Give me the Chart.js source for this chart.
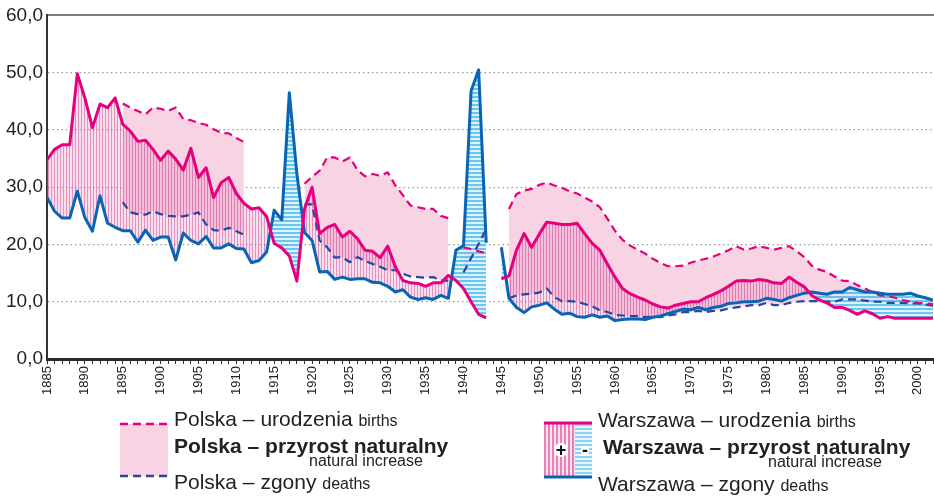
<!DOCTYPE html>
<html>
<head>
<meta charset="utf-8">
<script src="https://cdn.jsdelivr.net/npm/chart.js@4/dist/chart.umd.min.js"></script>
<style>
  html, body { margin:0; padding:0; background:#fff; }
  #wrap { position:relative; width:934px; height:498px; overflow:hidden; font-family:"Liberation Sans", Arial, sans-serif; color:#222; }
  #c { position:absolute; left:0; top:0; }
  .t { position:absolute; white-space:nowrap; font-size:21px; line-height:21px; }
  .b { font-weight:bold; }
  .s { font-size:16px; }
  .n { position:absolute; white-space:nowrap; font-size:16px; line-height:16px; }
  svg { position:absolute; }
</style>
</head>
<body>
<div id="wrap">
  <canvas id="c" width="934" height="498"></canvas>

  <svg style="left:120px;top:420px" width="50" height="60">
    <rect x="0" y="4" width="48" height="52" fill="#f8d3e4"/>
    <line x1="0" y1="4" x2="48" y2="4" stroke="#e6007e" stroke-width="2.4" stroke-dasharray="8,5"/>
    <line x1="0" y1="56" x2="48" y2="56" stroke="#2846a0" stroke-width="2.4" stroke-dasharray="8,5"/>
  </svg>
  <div class="t" style="left:174px;top:408px">Polska – urodzenia <span class="s">births</span></div>
  <div class="t b" style="left:174px;top:435px">Polska – przyrost naturalny</div>
  <div class="n" style="left:309px;top:453px">natural increase</div>
  <div class="t" style="left:174px;top:471px">Polska – zgony <span class="s">deaths</span></div>

  <svg style="left:544px;top:420px" width="50" height="60">
    <defs>
      <pattern id="pv" width="4" height="4" patternUnits="userSpaceOnUse">
        <rect x="0" y="0" width="4" height="4" fill="#fde4f0"/>
        <rect x="0" y="0" width="2" height="4" fill="#ea7fb5"/>
      </pattern>
      <pattern id="ph" width="4" height="4" patternUnits="userSpaceOnUse">
        <rect x="0" y="0" width="4" height="4" fill="#e6f6fc"/>
        <rect x="0" y="0" width="4" height="2" fill="#8dd3f0"/>
      </pattern>
    </defs>
    <rect x="0" y="3" width="31" height="54" fill="url(#pv)"/>
    <rect x="31" y="3" width="17" height="54" fill="url(#ph)"/>
    <circle cx="17" cy="30" r="7" fill="#fff"/>
    <text x="17" y="36" font-family="Liberation Sans, Arial" font-weight="bold" font-size="18" text-anchor="middle" fill="#111">+</text>
    <rect x="37" y="26" width="8" height="10" fill="#fff"/>
    <text x="41" y="36" font-family="Liberation Sans, Arial" font-weight="bold" font-size="18" text-anchor="middle" fill="#111">-</text>
    <line x1="0" y1="3" x2="48" y2="3" stroke="#e6007e" stroke-width="3"/>
    <line x1="0" y1="57" x2="48" y2="57" stroke="#0a64b4" stroke-width="3"/>
  </svg>
  <div class="t" style="left:598px;top:409px">Warszawa – urodzenia <span class="s">births</span></div>
  <div class="t b" style="left:603px;top:436px">Warszawa – przyrost naturalny</div>
  <div class="n" style="left:768px;top:454px">natural increase</div>
  <div class="t" style="left:598px;top:473px">Warszawa – zgony <span class="s">deaths</span></div>
</div>

<script>
// ---- data (per-mille, years 1885..2002) ----
const firstYear = 1885;
const lastYear = 2002;
const years = [];
for (let y = firstYear; y <= lastYear; y++) years.push(y);

const warsawBirths = [
  34.8, 36.6, 37.4, 37.4, 49.8, 45.6, 40.4, 44.5, 43.9, 45.6,
  41.0, 39.8, 38.0, 38.2, 36.6, 34.7, 36.3, 34.9, 33.0, 36.8,
  31.7, 33.4, 28.2, 30.8, 31.7, 28.9, 27.2, 26.2, 26.4, 24.9,
  20.2, 19.4, 18.0, 13.6, 26.2, 30.0, 21.9, 23.0, 23.5, 21.3,
  22.3, 21.0, 19.0, 18.8, 17.7, 19.7, 16.1, 13.7, 13.3, 13.2,
  12.7, 13.3, 13.3, 14.6, 13.7, 12.3, 10.0, 7.8, 7.2, null,
  14.0, 14.5, 19.0, 21.9, 19.5, 21.8, 23.9, 23.7, 23.5, 23.5,
  23.7, 21.9, 20.2, 19.0, 16.6, 14.3, 12.3, 11.4, 10.8, 10.3,
  9.6, 9.1, 8.9, 9.4, 9.7, 10.0, 10.0, 10.7, 11.3, 11.9,
  12.7, 13.6, 13.7, 13.6, 13.9, 13.7, 13.3, 13.2, 14.3, 13.4,
  12.6, 11.1, 10.3, 9.8, 9.0, 9.0, 8.5, 7.8, 8.4, 7.9,
  7.1, 7.4, 7.1, 7.1, 7.1, 7.1, 7.1, 7.1
];

const warsawDeaths = [
  28.2, 25.8, 24.6, 24.6, 29.3, 24.7, 22.3, 28.5, 23.7, 23.0,
  22.4, 22.4, 20.4, 22.5, 20.7, 21.3, 21.3, 17.3, 22.0, 20.7,
  20.1, 21.4, 19.4, 19.4, 20.1, 19.3, 19.2, 16.8, 17.2, 18.7,
  26.0, 24.3, 46.5, 32.3, 22.1, 20.7, 15.2, 15.3, 13.9, 14.3,
  13.9, 14.0, 14.0, 13.4, 13.3, 12.7, 11.7, 12.1, 10.8, 10.4,
  10.7, 10.4, 11.1, 10.6, 19.0, 19.8, 46.8, 50.5, 20.3, null,
  19.5, 10.6, 9.0, 8.1, 9.1, 9.4, 9.8, 8.7, 7.8, 8.0,
  7.4, 7.3, 7.7, 7.3, 7.5, 6.7, 6.9, 7.0, 7.0, 6.9,
  7.3, 7.5, 7.9, 8.3, 8.7, 8.6, 9.0, 8.6, 9.0, 9.2,
  9.7, 9.8, 10.0, 10.0, 10.1, 10.6, 10.4, 10.1, 10.7, 11.1,
  11.5, 11.7, 11.5, 11.3, 11.7, 11.7, 12.5, 12.1, 11.7, 11.7,
  11.5, 11.3, 11.3, 11.3, 11.5, 11.0, 10.7, 10.3
];

const polandBirths = [
  null, null, null, null, null, null, null, null, null, null,
  44.6, 43.9, 43.3, 42.7, 43.9, 43.7, 43.3, 43.9, 41.9, 41.7,
  41.2, 40.9, 40.1, 39.5, 39.4, 38.6, 37.9, null, null, null,
  null, null, null, null, 30.6, 31.8, 32.9, 35.2, 35.2, 34.5,
  35.2, 33.0, 31.9, 32.3, 32.0, 32.6, 30.3, 28.6, 26.8, 26.5,
  26.2, 26.2, 25.0, 24.6, null, 19.5, 19.2, 18.8, 18.5, null,
  null, 26.2, 28.8, 29.4, 29.7, 30.4, 30.8, 30.3, 29.9, 29.3,
  28.9, 28.2, 27.5, 26.5, 24.5, 22.4, 20.8, 19.8, 19.1, 18.4,
  17.5, 16.8, 16.2, 16.2, 16.3, 16.8, 17.2, 17.5, 17.9, 18.4,
  19.0, 19.7, 19.1, 19.3, 19.7, 19.4, 19.1, 19.4, 19.7, 18.8,
  17.8, 16.3, 15.6, 15.2, 14.4, 13.7, 13.6, 12.9, 12.3, 11.7,
  11.1, 11.0, 10.7, 10.3, 10.0, 9.8, 9.7, 9.6
];

const polandDeaths = [
  null, null, null, null, null, null, null, null, null, null,
  27.4, 25.6, 25.3, 25.2, 25.8, 25.3, 25.0, 24.9, 24.9, 25.2,
  25.6, 23.5, 22.5, 22.4, 22.9, 22.3, 21.7, null, null, null,
  null, null, null, null, 27.0, 27.0, 20.7, 19.5, 17.7, 17.8,
  16.9, 17.8, 17.1, 16.6, 16.1, 15.5, 15.5, 14.9, 14.4, 14.3,
  14.2, 14.3, 13.7, 13.7, null, 15.1, 17.6, 20.1, 22.7, null,
  null, 10.6, 11.1, 11.3, 11.4, 11.6, 12.3, 10.8, 10.1, 10.1,
  10.0, 9.6, 9.2, 8.5, 8.2, 7.7, 7.6, 7.5, 7.5, 7.3,
  7.4, 7.3, 7.6, 7.8, 8.2, 8.2, 8.4, 8.2, 8.4, 8.5,
  8.8, 9.0, 9.2, 9.4, 9.4, 9.8, 9.4, 9.4, 9.8, 10.0,
  10.1, 10.1, 10.1, 10.0, 10.0, 10.4, 10.4, 10.4, 10.2, 10.0,
  10.0, 9.8, 9.8, 9.8, 9.7, 9.7, 9.5, 9.3
];

const yTickMin = 0, yTickMax = 60, yTickStep = 10;

// ---- patterns ----
function makePattern(w, h, paint) {
  const c = document.createElement('canvas');
  c.width = w; c.height = h;
  const g = c.getContext('2d');
  paint(g);
  return document.getElementById('c').getContext('2d').createPattern(c, 'repeat');
}
const plusPattern = makePattern(3, 1, g => {
  g.fillStyle = 'rgba(200,55,135,0.55)'; g.fillRect(0, 0, 1, 1);
  g.fillStyle = 'rgba(238,150,198,0.3)'; g.fillRect(1, 0, 2, 1);
});
const minusPattern = makePattern(1, 4, g => {
  g.fillStyle = 'rgba(70,185,235,0.8)'; g.fillRect(0, 0, 1, 2);
  g.fillStyle = 'rgba(205,238,252,0.7)'; g.fillRect(0, 2, 1, 2);
});

const pts = arr => years.map((y, i) => ({ x: y, y: arr[i] }));
const FONT = '"Liberation Sans", Arial, sans-serif';

new Chart(document.getElementById('c'), {
  type: 'line',
  data: {
    datasets: [
      { label: 'Warszawa – urodzenia', data: pts(warsawBirths), borderColor: '#e6007e', borderWidth: 3,
        fill: { target: 1, above: plusPattern, below: minusPattern } },
      { label: 'Warszawa – zgony', data: pts(warsawDeaths), borderColor: '#0a64b4', borderWidth: 3, fill: false },
      { label: 'Polska – urodzenia', data: pts(polandBirths), borderColor: '#e6007e', borderWidth: 2.2, borderDash: [8, 5],
        fill: { target: 3, above: '#f8d3e4', below: 'rgba(0,0,0,0)' } },
      { label: 'Polska – zgony', data: pts(polandDeaths), borderColor: '#2846a0', borderWidth: 2.2, borderDash: [8, 5], fill: false }
    ]
  },
  options: {
    responsive: false,
    animation: false,
    spanGaps: false,
    elements: { point: { radius: 0, hoverRadius: 0 }, line: { tension: 0, borderJoinStyle: 'round' } },
    layout: { padding: { top: 14, right: 1, bottom: 100, left: 0 } },
    plugins: {
      legend: { display: false },
      tooltip: { enabled: false },
      filler: { drawTime: 'beforeDatasetsDraw' }
    },
    scales: {
      x: {
        type: 'linear', position: 'bottom', min: firstYear, max: lastYear,
        afterFit: s => { s.height = 39; s.paddingRight = 0; s.paddingLeft = 0; },
        ticks: {
          stepSize: 1, autoSkip: false, minRotation: 90, maxRotation: 90, padding: 2,
          color: '#222', font: { family: FONT, size: 13 },
          callback: v => (v % 5 === 0 ? String(v) : '')
        },
        grid: { display: true, drawOnChartArea: false, drawTicks: true, tickLength: 5, color: '#333', lineWidth: 1 },
        border: { display: true, color: '#2a2a2a', width: 3 }
      },
      xTop: {
        type: 'linear', position: 'top', min: firstYear, max: lastYear,
        afterFit: s => { s.height = 0; s.paddingRight = 0; s.paddingLeft = 0; },
        ticks: { display: false },
        grid: { display: false },
        border: { display: true, color: '#7a7a7a', width: 2 }
      },
      y: {
        min: yTickMin, max: yTickMax,
        afterFit: s => { s.width = 47; },
        ticks: {
          stepSize: yTickStep, padding: 4, color: '#222', font: { family: FONT, size: 19 },
          callback: v => v.toFixed(1).replace('.', ',')
        },
        grid: {
          drawTicks: false, lineWidth: 1.3,
          color: c => (c.tick && (c.tick.value === yTickMin || c.tick.value === yTickMax)) ? 'rgba(0,0,0,0)' : '#9a9a9a'
        },
        border: { display: true, color: '#333', width: 2, dash: [1.5, 3] }
      }
    }
  }
});
</script>
</body>
</html>
